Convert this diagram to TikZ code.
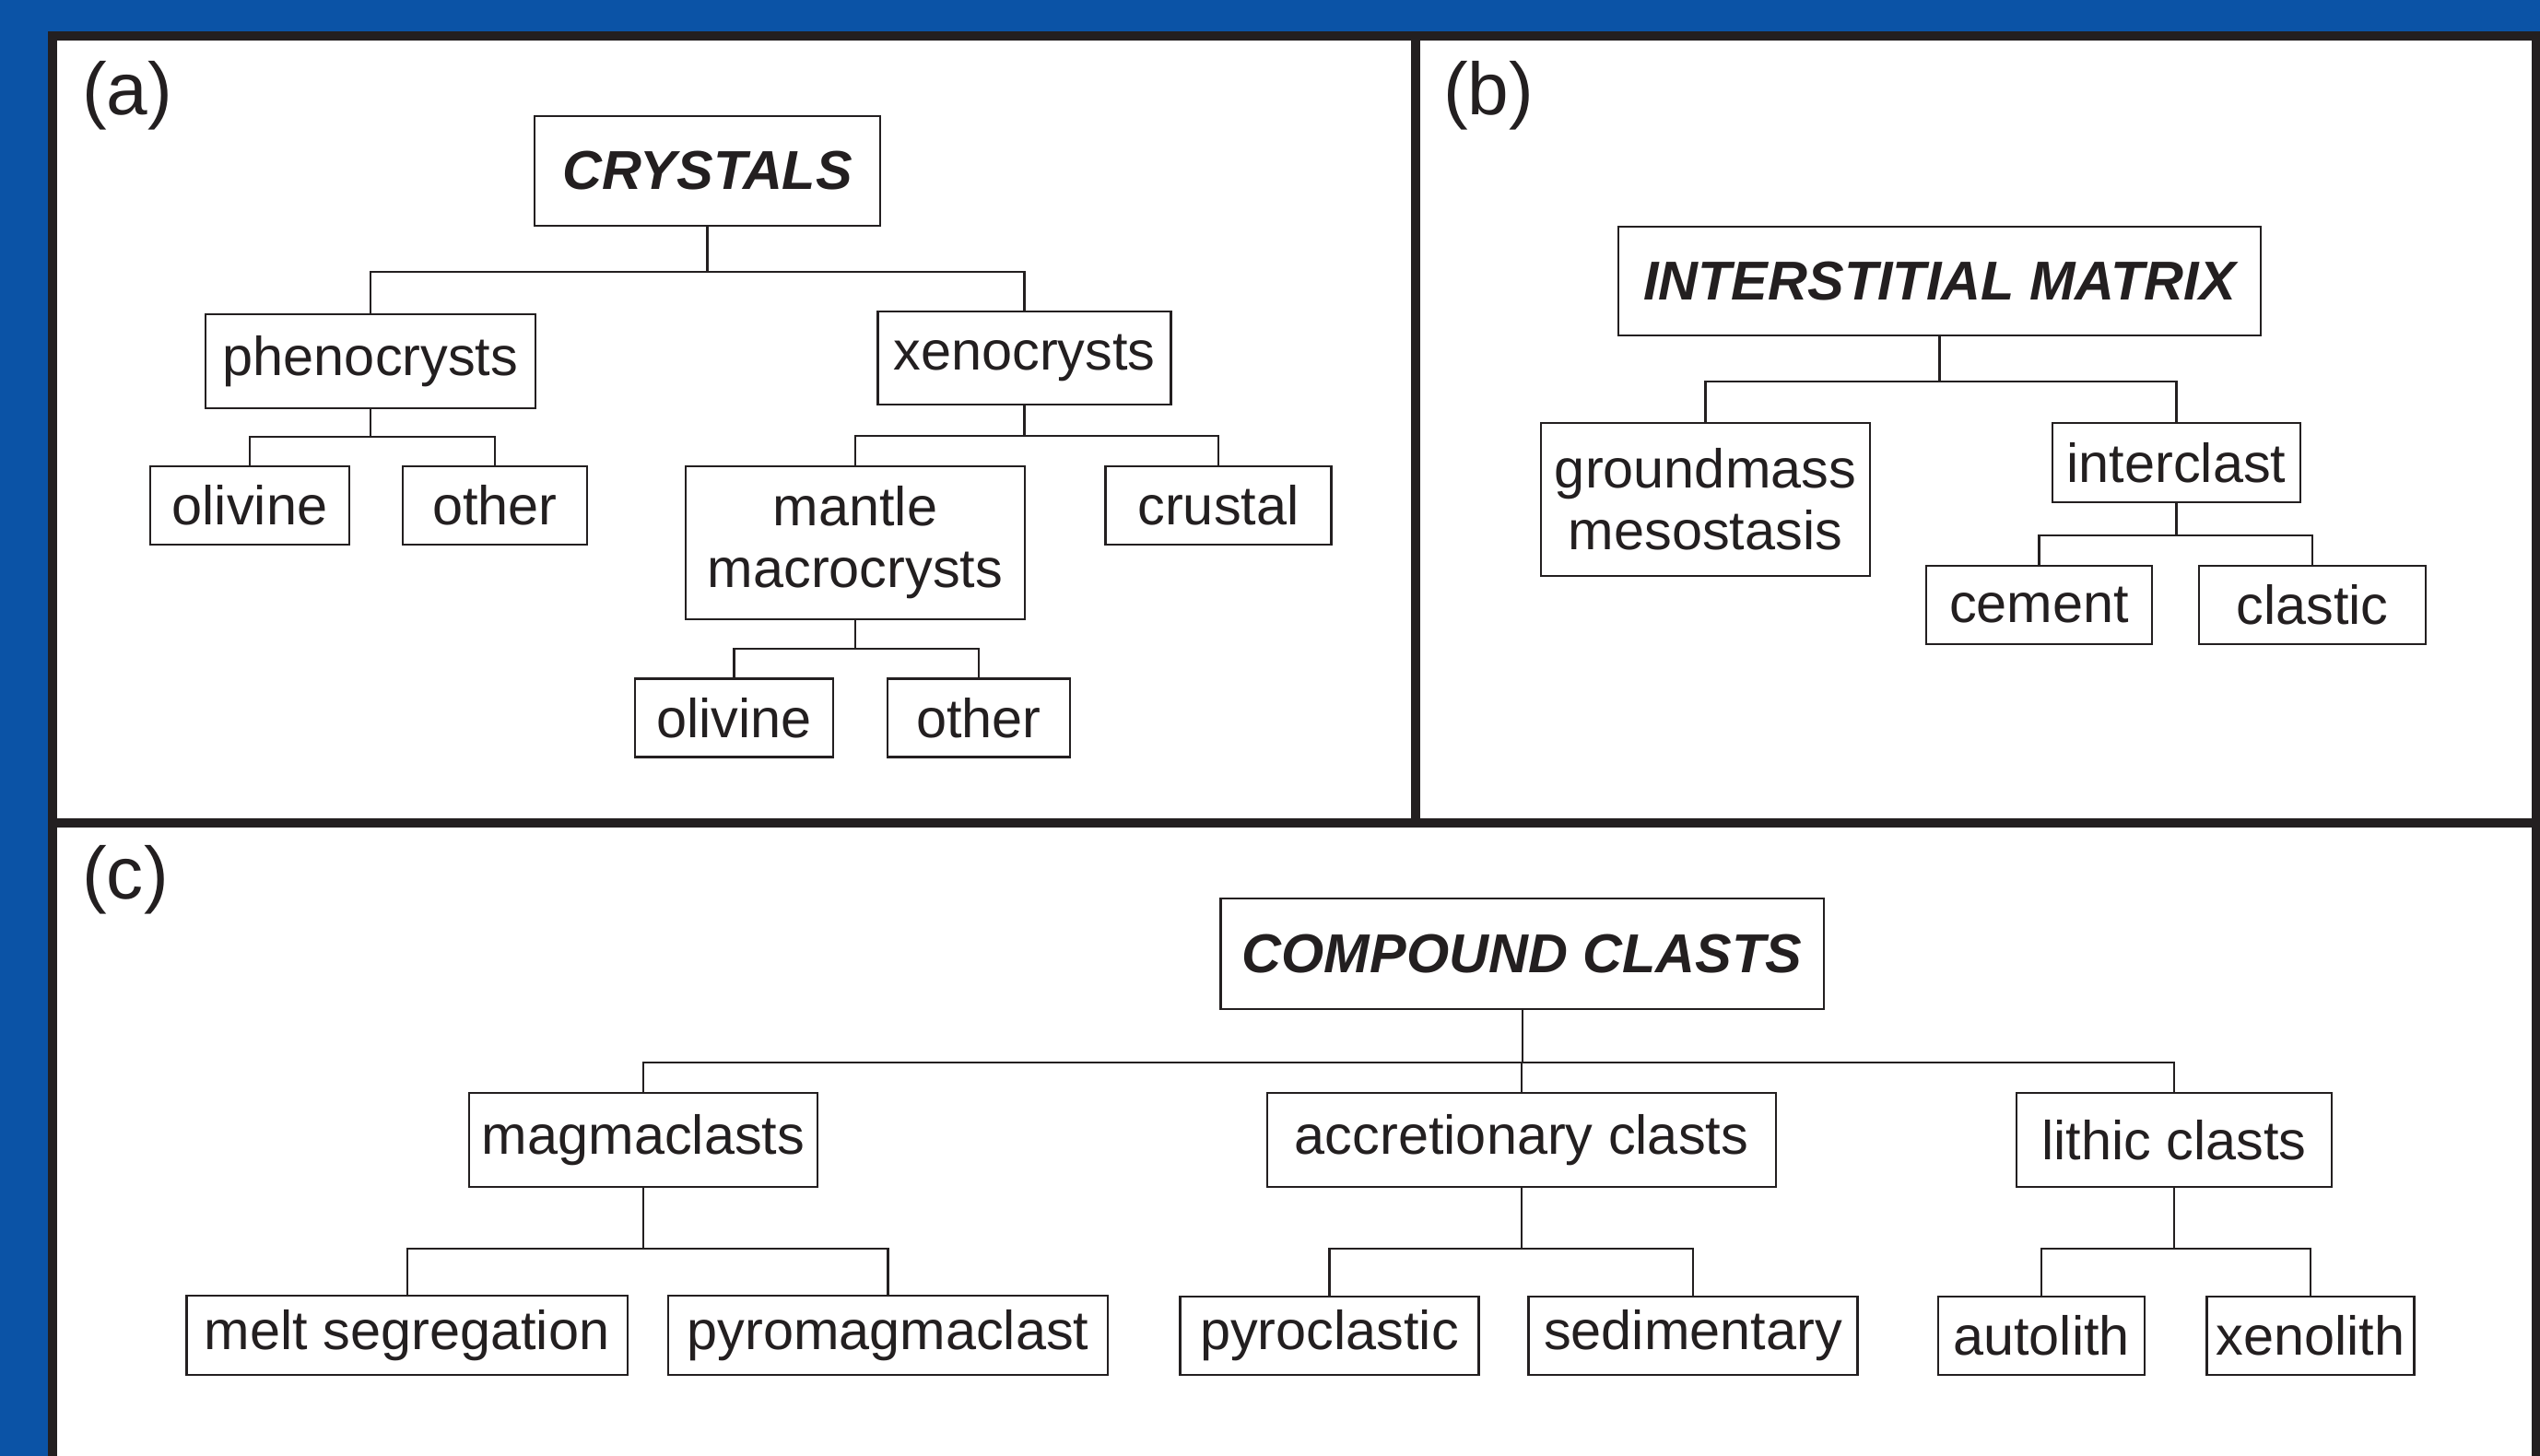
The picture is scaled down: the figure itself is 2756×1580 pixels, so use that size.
\documentclass[tikz,border=0pt]{standalone}
\usepackage{fontspec}
\setmainfont{Liberation Sans}
\definecolor{panelblue}{RGB}{11,83,166}
\definecolor{inkblack}{RGB}{35,31,32}
\tikzset{
  box/.style={draw=inkblack, line width=0.65pt, text=inkblack, inner sep=0pt,
    minimum height=0.85cm, align=center, font=\fontsize{16.9}{19}\selectfont},
  head/.style={box, minimum height=1.19cm, font=\fontsize{16.9}{19}\selectfont\bfseries\itshape},
  link/.style={draw=inkblack, line width=0.6pt},
  panellabel/.style={text=inkblack, inner sep=0pt, font=\fontsize{22.8}{26}\selectfont},
  frameline/.style={draw=inkblack, line width=0.1cm}
}

\begin{document}
\begin{tikzpicture}[x=0.01cm, y=-0.01cm]
    \useasboundingbox (0,0) rectangle (2756,1580);
    \clip (0,0) rectangle (2756,1580);
    % Draw background and panel frames
    \fill[panelblue] (0,0) rectangle (2756,1580);
    \fill[white] (57,39) rectangle (2752,1620);
    \draw[frameline] (57,1620) -- (57,39) -- (2752,39) -- (2752,1620);
    \draw[frameline] (57,893) -- (2752,893);
    \draw[frameline] (1536,39) -- (1536,893);
    \node[panellabel] (lbla) at (138,104) {(a)};
    \node[panellabel] (lblb) at (1615,104) {(b)};
    \node[panellabel] (lblc) at (136,955) {(c)};
    % Panel (a): crystals
    \node[head, minimum width=3.75cm] (crys) at (767.5,185.5) {CRYSTALS};
    \node[box, minimum width=3.58cm, minimum height=1.02cm] (pheno) at (402,392) {phenocrysts};
    \node[box, minimum width=3.18cm, minimum height=1.01cm] (xeno) at (1111.5,388.5) {xenocrysts};
    \node[box, minimum width=2.16cm] (oliv1) at (271,548.5) {olivine};
    \node[box, minimum width=2.00cm] (oth1) at (537,548.5) {other};
    \node[box, minimum width=3.68cm, minimum height=1.66cm] (mantle) at (928,589) {mantle\\macrocrysts};
    \node[box, minimum width=2.45cm] (crust) at (1322,548.5) {crustal};
    \node[box, minimum width=2.15cm] (oliv2) at (796.5,779) {olivine};
    \node[box, minimum width=1.98cm] (oth2) at (1062,779) {other};
    \foreach \c in {pheno,xeno} \draw[link] (crys.south) -- ++(0,49) -| (\c.north);
    \foreach \c in {oliv1,oth1} \draw[link] (pheno.south) -- ++(0,30) -| (\c.north);
    \foreach \c in {mantle,crust} \draw[link] (xeno.south) -- ++(0,33) -| (\c.north);
    \foreach \c in {oliv2,oth2} \draw[link] (mantle.south) -- ++(0,31) -| (\c.north);
    % Panel (b): interstitial matrix
    \node[head, minimum width=6.97cm, minimum height=1.18cm] (matrix) at (2104.5,305) {INTERSTITIAL MATRIX};
    \node[box, minimum width=3.57cm, minimum height=1.66cm] (ground) at (1850.5,542) {groundmass\\mesostasis};
    \node[box, minimum width=2.69cm, minimum height=0.86cm] (inter) at (2361.5,502) {interclast};
    \node[box, minimum width=2.45cm] (cement) at (2212.5,656.5) {cement};
    \node[box, minimum width=2.46cm] (clastic) at (2509,656.5) {clastic};
    \foreach \c in {ground,inter} \draw[link] (matrix.south) -- ++(0,49) -| (\c.north);
    \foreach \c in {cement,clastic} \draw[link] (inter.south) -- ++(0,35) -| (\c.north);
    % Panel (c): compound clasts
    \node[head, minimum width=6.54cm, minimum height=1.20cm] (compound) at (1651.6,1035) {COMPOUND CLASTS};
    \node[box, minimum width=3.78cm, minimum height=1.02cm] (magma) at (698,1237) {magmaclasts};
    \node[box, minimum width=5.51cm, minimum height=1.02cm] (accr) at (1651,1237) {accretionary clasts};
    \node[box, minimum width=3.42cm, minimum height=1.02cm] (lithic) at (2359,1237) {lithic clasts};
    \node[box, minimum width=4.78cm, minimum height=0.86cm] (melt) at (441.6,1449) {melt segregation};
    \node[box, minimum width=4.77cm, minimum height=0.86cm] (pyromag) at (963.5,1449) {pyromagmaclast};
    \node[box, minimum width=3.24cm] (pyrocl) at (1442.5,1449.5) {pyroclastic};
    \node[box, minimum width=3.57cm] (sedim) at (1837,1449.5) {sedimentary};
    \node[box, minimum width=2.24cm] (auto) at (2215,1449.5) {autolith};
    \node[box, minimum width=2.25cm] (xenol) at (2507,1449.5) {xenolith};
    \foreach \c in {magma,accr,lithic} \draw[link] (compound.south) -- ++(0,57) -| (\c.north);
    \foreach \c in {melt,pyromag} \draw[link] (magma.south) -- ++(0,66) -| (\c.north);
    \foreach \c in {pyrocl,sedim} \draw[link] (accr.south) -- ++(0,66) -| (\c.north);
    \foreach \c in {auto,xenol} \draw[link] (lithic.south) -- ++(0,66) -| (\c.north);
\end{tikzpicture}
\end{document}
